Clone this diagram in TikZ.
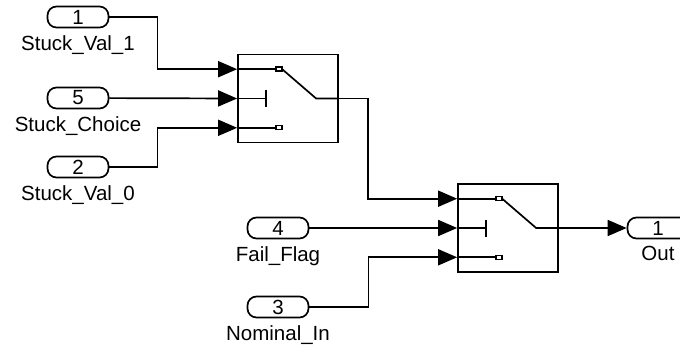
\documentclass[tikz,border=0pt]{standalone}
\usepackage{fontspec}
\setmainfont{Liberation Sans}
\usetikzlibrary{arrows.meta,positioning}

\begin{document}
\begin{tikzpicture}[x=1pt,y=-1pt,line width=1.7pt,>={Triangle[length=19pt,width=16pt]},
  every node/.style={font=\fontsize{20.5}{24}\selectfont},
  port/.style={draw,rounded corners=9pt,minimum width=61pt,minimum height=21pt,inner sep=0pt},
  lbl/.style={inner sep=0pt},
  switchbox/.style={draw,minimum width=100pt,minimum height=88pt,inner sep=0pt},
  contact/.style={draw,fill=white,line width=1.4pt,minimum width=6pt,minimum height=4pt,inner sep=0pt}]
\useasboundingbox (0,0) rectangle (680,350);
% inports
\node[port] (in1) at (78,17) {1};
\node[lbl,below=6pt of in1] (in1-lbl) {Stuck\_Val\_1};
\node[port] (in5) at (78,98) {5};
\node[lbl,below=6pt of in5] (in5-lbl) {Stuck\_Choice};
\node[port] (in2) at (78,167) {2};
\node[lbl,below=6pt of in2] (in2-lbl) {Stuck\_Val\_0};
\node[port] (in4) at (278,228) {4};
\node[lbl,below=6pt of in4] (in4-lbl) {Fail\_Flag};
\node[port] (in3) at (278,307) {3};
\node[lbl,below=6pt of in3] (in3-lbl) {Nominal\_In};
% outport
\node[port] (out) at (658,228) {1};
\node[lbl,below=6pt of out] (out-lbl) {Out};
% switches
\node[switchbox] (sw1) at (288,98.5) {};
\node[switchbox] (sw2) at (508,228) {};
\foreach \s in {sw1,sw2}{
  \coordinate[above=29.3pt of \s.west] (\s-in1);
  \coordinate (\s-in2) at (\s.west);
  \coordinate[below=29.3pt of \s.west] (\s-in3);
  \begin{scope}[shift={(\s.west)}]
    \draw (0,-29.3) -- (39,-29.3);
    \draw (0,0) -- (29,0) (29,-8) -- (29,9);
    \draw (0,29.3) -- (39,29.3);
    \draw (45,-29.3) -- (79,0) -- (100,0);
    \node[contact] (\s-c1) at (42,-29.3) {};
    \node[contact] (\s-c3) at (42,29.3) {};
  \end{scope}
}
% signal lines
\draw[->] (in1.east) -- ++(48,0) |- (sw1-in1);
\draw[->] (in5) -- (sw1-in2);
\draw[->] (in2.east) -- ++(48,0) |- (sw1-in3);
\draw[->] (sw1.east) -- ++(29,0) |- (sw2-in1);
\draw[->] (in4) -- (sw2-in2);
\draw[->] (in3.east) -- ++(59,0) |- (sw2-in3);
\draw[->] (sw2) -- (out);
\end{tikzpicture}
\end{document}
